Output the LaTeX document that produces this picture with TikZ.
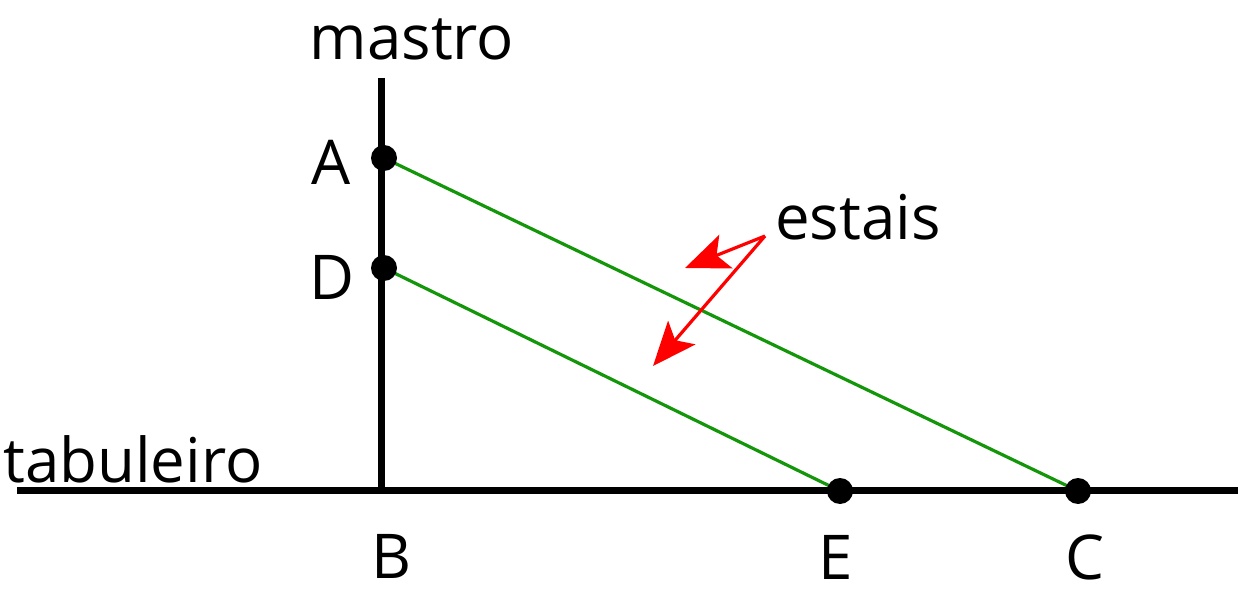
\documentclass[tikz,border=0pt]{standalone}
\usepackage{fontspec}
\setmainfont{Open Sans}
\usetikzlibrary{arrows.meta,backgrounds}
\definecolor{stay}{RGB}{20,150,10}
\definecolor{arrred}{RGB}{255,0,0}
\tikzset{
  dot/.style={circle,fill=black,inner sep=0pt,minimum size=26bp},
  lbl/.style={font=\fontsize{62}{72}\selectfont,inner sep=0pt,anchor=base},
  struct/.style={line width=7bp,black},
  cable/.style={line width=3.2bp,stay},
  pointer/.style={line width=3.2bp,arrred,-{Stealth[length=44bp,width=36bp,inset=10bp]}}
}
\begin{document}
\begin{tikzpicture}[x=1bp,y=-1bp]
\useasboundingbox (0,0) rectangle (1238,597);
% points
\node[dot] (A) at (384,158) {};
\node[dot] (D) at (384,268) {};
\node[dot] (E) at (840,491) {};
\node[dot] (C) at (1078,491) {};
% structure
\coordinate (mtop) at (381,78);
\coordinate (mbot) at (381,490);
\coordinate (dl) at (17,490);
\coordinate (dr) at (1238,490);
\begin{scope}[on background layer]
\draw[struct] (mtop) -- (mbot);
\draw[struct] (dl) -- (dr);
\draw[cable] (A.center) -- (C.center);
\draw[cable] (D.center) -- (E.center);
\end{scope}
% labels
\node[lbl] (lm) at (412,60) {mastro};
\node[lbl] (lA) at (331,185) {A};
\node[lbl] (lD) at (332,300) {D};
\node[lbl,anchor=base west] (lt) at (3,482) {tabuleiro};
\node[lbl] (lB) at (392,578) {B};
\node[lbl] (lE) at (836,579) {E};
\node[lbl] (lC) at (1085,579) {C};
\node[lbl,anchor=base west] (les) at (775,240) {estais};
% pointers
\coordinate (apex) at (765,236);
\coordinate (t1) at (685,268);
\coordinate (t2) at (653,366);
\draw[pointer] (apex) -- (t1);
\draw[pointer] (apex) -- (t2);
\end{tikzpicture}
\end{document}
